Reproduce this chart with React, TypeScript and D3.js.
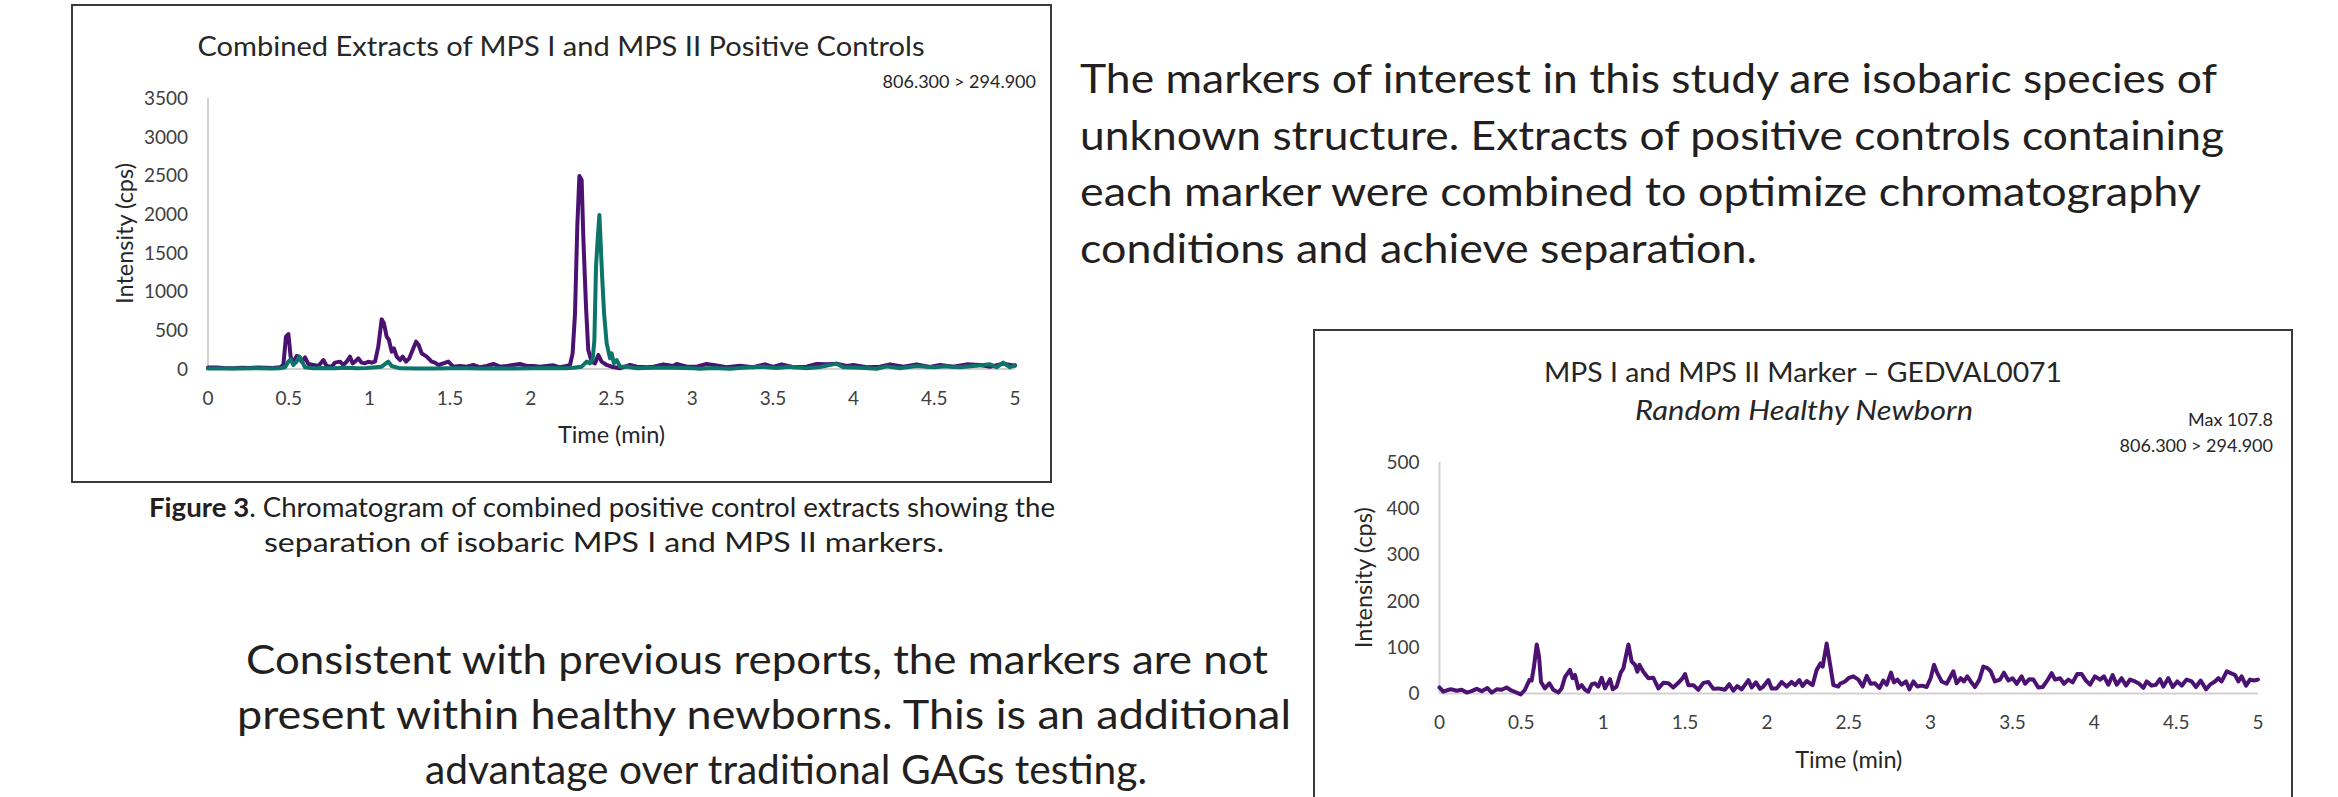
import React from "react";
import * as d3 from "d3";

// tick values
const timeTicks = [0, 0.5, 1, 1.5, 2, 2.5, 3, 3.5, 4, 4.5, 5];
const combinedIntensityTicks = [0, 500, 1000, 1500, 2000, 2500, 3000, 3500];
const healthyIntensityTicks = [0, 100, 200, 300, 400, 500];

// combined positive controls, first marker (purple trace)
const controlATimes = [
  0, 0.05, 0.1, 0.157, 0.21, 0.26, 0.31, 0.363, 0.4, 0.446, 0.467, 0.483, 0.498, 0.512, 0.529, 0.549,
  0.566, 0.58, 0.601, 0.622, 0.653, 0.684, 0.715, 0.735, 0.766, 0.787, 0.818, 0.838, 0.859, 0.88, 0.896,
  0.911, 0.931, 0.952, 0.973, 0.993, 1.014, 1.035, 1.055, 1.076, 1.09, 1.107, 1.121, 1.138, 1.152, 1.169,
  1.19, 1.206, 1.227, 1.247, 1.268, 1.289, 1.305, 1.324, 1.355, 1.386, 1.406, 1.427, 1.458, 1.489, 1.52,
  1.561, 1.603, 1.644, 1.685, 1.727, 1.768, 1.809, 1.85, 1.89, 1.933, 1.974, 2.016, 2.057, 2.098, 2.14,
  2.181, 2.222, 2.243, 2.259, 2.274, 2.288, 2.301, 2.315, 2.326, 2.342, 2.356, 2.377, 2.398, 2.418, 2.439,
  2.47, 2.5, 2.553, 2.615, 2.656, 2.718, 2.76, 2.821, 2.883, 2.904, 2.966, 3.028, 3.089, 3.151, 3.213,
  3.296, 3.378, 3.451, 3.502, 3.554, 3.626, 3.709, 3.771, 3.833, 3.895, 3.957, 3.998, 4.081, 4.163, 4.225,
  4.308, 4.39, 4.473, 4.535, 4.618, 4.7, 4.783, 4.845, 4.927, 5,
];
const controlAValues = [
  20, 18, 12, 9, 15, 13, 20, 17, 12, 22, 52, 418, 452, 159, 73, 168,
  159, 95, 150, 65, 52, 39, 116, 39, 30, 82, 95, 52, 95, 159, 73,
  95, 138, 82, 73, 95, 82, 95, 288, 641, 590, 418, 375, 224, 267, 159,
  116, 159, 95, 138, 245, 353, 310, 202, 159, 95, 82, 52, 73, 95, 30,
  39, 30, 52, 22, 39, 65, 30, 39, 52, 65, 39, 39, 30, 39, 47,
  22, 39, 52, 202, 719, 1838, 2493, 2441, 1666, 805, 245, 95, 73, 181, 95,
  52, 30, 9, 52, 30, 22, 30, 60, 39, 65, 30, 30, 65, 47, 22,
  43, 22, 60, 26, 60, 22, 30, 65, 60, 69, 39, 52, 22, 30, 60,
  30, 60, 26, 52, 30, 60, 52, 30, 69, 43,
];

// combined positive controls, second marker (teal trace)
const controlBTimes = [
  0, 0.1, 0.2, 0.3, 0.4, 0.446, 0.477, 0.498, 0.512, 0.529, 0.549, 0.564, 0.58, 0.601, 0.653, 0.7,
  0.777, 0.859, 0.92, 0.983, 1.076, 1.117, 1.138, 1.19, 1.3, 1.396, 1.5, 1.603, 1.7, 1.809, 1.9,
  2.016, 2.1, 2.222, 2.264, 2.315, 2.346, 2.367, 2.383, 2.394, 2.404, 2.414, 2.425, 2.433, 2.441, 2.454,
  2.47, 2.491, 2.501, 2.515, 2.532, 2.553, 2.6, 2.656, 2.76, 2.88, 3.007, 3.048, 3.13, 3.234, 3.316,
  3.42, 3.523, 3.606, 3.709, 3.792, 3.895, 3.936, 4.039, 4.143, 4.205, 4.287, 4.39, 4.494, 4.576, 4.659,
  4.762, 4.845, 4.886, 4.927, 4.969, 5,
];
const controlBValues = [
  5, 8, 5, 9, 5, 9, 22, 95, 125, 52, 95, 159, 108, 22, 9, 13,
  9, 17, 9, 13, 30, 95, 39, 9, 5, 5, 9, 9, 5, 9, 5,
  9, 13, 9, 17, 30, 95, 73, 116, 375, 1322, 1666, 1989, 1623, 1236, 719,
  331, 138, 202, 73, 116, 30, 30, 9, 17, 17, 9, 4, 13, 4, 17,
  30, 13, 30, 9, 26, 69, 22, 17, 4, 34, 9, 39, 22, 34, 22,
  43, 60, 22, 82, 22, 52,
];

// random healthy newborn GEDVAL0071
const healthyTimes = [
  0, 0.023, 0.054, 0.074, 0.105, 0.135, 0.166, 0.196, 0.227, 0.258, 0.292, 0.319, 0.349, 0.38, 0.41,
  0.441, 0.471, 0.496, 0.522, 0.549, 0.563, 0.577, 0.594, 0.608, 0.62, 0.644, 0.671, 0.695, 0.726,
  0.746, 0.767, 0.797, 0.813, 0.828, 0.848, 0.868, 0.889, 0.909, 0.93, 0.95, 0.97, 0.991, 1.011,
  1.042, 1.058, 1.082, 1.107, 1.123, 1.154, 1.174, 1.194, 1.209, 1.221, 1.245, 1.276, 1.306, 1.337,
  1.367, 1.398, 1.428, 1.459, 1.485, 1.5, 1.52, 1.551, 1.581, 1.612, 1.642, 1.673, 1.703, 1.744,
  1.77, 1.795, 1.819, 1.846, 1.887, 1.907, 1.933, 1.958, 1.978, 2.009, 2.029, 2.06, 2.09, 2.121,
  2.151, 2.172, 2.198, 2.218, 2.243, 2.279, 2.304, 2.328, 2.341, 2.365, 2.385, 2.406, 2.436, 2.447,
  2.477, 2.498, 2.528, 2.559, 2.585, 2.61, 2.634, 2.66, 2.687, 2.711, 2.732, 2.758, 2.776, 2.797,
  2.823, 2.85, 2.87, 2.895, 2.919, 2.946, 2.976, 3, 3.021, 3.041, 3.068, 3.098, 3.139, 3.159, 3.184,
  3.204, 3.224, 3.245, 3.271, 3.298, 3.322, 3.347, 3.367, 3.393, 3.424, 3.448, 3.475, 3.501, 3.526,
  3.556, 3.577, 3.603, 3.628, 3.658, 3.685, 3.709, 3.74, 3.76, 3.791, 3.815, 3.841, 3.868, 3.896,
  3.923, 3.949, 3.974, 4.004, 4.035, 4.059, 4.086, 4.112, 4.137, 4.167, 4.194, 4.218, 4.249, 4.275,
  4.3, 4.32, 4.35, 4.377, 4.401, 4.422, 4.452, 4.479, 4.507, 4.534, 4.564, 4.595, 4.621, 4.65, 4.682,
  4.707, 4.737, 4.758, 4.778, 4.809, 4.833, 4.86, 4.88, 4.9, 4.927, 4.951, 4.976, 5,
];
const healthyValues = [
  13, 4, 8, 9, 6, 8, 2, 5, 10, 5, 12, 2, 9, 8, 13,
  6, 2, -2, 8, 29, 28, 58, 106, 80, 25, 11, 22, 8, 2,
  11, 36, 51, 33, 40, 11, 18, 8, 4, 20, 22, 15, 34, 11,
  31, 9, 15, 45, 54, 106, 69, 62, 47, 62, 47, 33, 34, 11,
  23, 22, 13, 23, 33, 42, 18, 18, 8, 23, 25, 10, 11, 8,
  20, 6, 16, 9, 29, 13, 24, 10, 15, 29, 11, 11, 25, 15,
  25, 18, 29, 16, 27, 18, 51, 65, 58, 108, 65, 18, 15, 21,
  26, 33, 37, 30, 15, 38, 21, 22, 12, 28, 19, 45, 24, 30,
  19, 26, 9, 26, 15, 17, 14, 33, 62, 44, 26, 21, 48, 22, 33,
  26, 37, 26, 14, 30, 58, 55, 48, 26, 30, 45, 28, 33, 21,
  37, 21, 31, 30, 13, 14, 26, 44, 30, 33, 21, 30, 24, 42,
  42, 28, 19, 37, 30, 37, 19, 40, 19, 33, 17, 30, 26, 21,
  12, 26, 17, 19, 31, 15, 33, 14, 26, 17, 30, 26, 14, 28, 9,
  19, 26, 33, 26, 48, 44, 40, 26, 37, 17, 30, 28, 30,
];

const introLines = [
  "The markers of interest in this study are isobaric species of",
  "unknown structure. Extracts of positive controls containing",
  "each marker were combined to optimize chromatography",
  "conditions and achieve separation.",
];
const conclusionLines = [
  "Consistent with previous reports, the markers are not",
  "present within healthy newborns. This is an additional",
  "advantage over traditional GAGs testing.",
];

const FONT = "Lato, 'Open Sans', sans-serif";
const PURPLE = "#4b1272";
const TEAL = "#0c7468";

type Trace = { times: number[]; values: number[]; color: string };

function Chromatogram(props: any) {
  const { box, plot, yMax, yTicks, traces, titles, notes, yTitleX, xTickY, xTitleY } = props;
  const x = d3.scaleLinear().domain([0, 5]).range([plot.left, plot.right]);
  const y = d3.scaleLinear().domain([0, yMax]).range([plot.bottom, plot.top]);
  const line = d3
    .line<[number, number]>()
    .x((d) => x(d[0]))
    .y((d) => y(d[1]));
  const midY = (plot.top + plot.bottom) / 2;
  const midX = (plot.left + plot.right) / 2;

  return (
    <g fontFamily={FONT}>
      <rect x={box.x} y={box.y} width={box.w} height={box.h} fill="#fff" stroke="#3a3a3a" strokeWidth={2} />
      {titles.map((t: any, i: number) => (
        <text key={i} x={t.x} y={t.y} textAnchor="middle" fontSize={27} fill="#262626"
          fontStyle={t.italic ? "italic" : "normal"} textLength={t.len} lengthAdjust="spacingAndGlyphs">
          {t.text}
        </text>
      ))}
      {notes.map((n: any, i: number) => (
        <text key={i} x={n.x} y={n.y} textAnchor="end" fontSize={18} fill="#262626">{n.text}</text>
      ))}
      {/* axes */}
      <line x1={plot.left} x2={plot.left} y1={plot.top} y2={plot.bottom} stroke="#d4d0d0" strokeWidth={2} />
      <line x1={plot.left} x2={plot.right} y1={plot.bottom} y2={plot.bottom} stroke="#d4d0d0" strokeWidth={2} />
      {yTicks.map((v: number) => (
        <text key={v} x={plot.left - 20} y={y(v)} dy="0.36em" textAnchor="end" fontSize={19} fill="#404040">{v}</text>
      ))}
      {timeTicks.map((t) => (
        <text key={t} x={x(t)} y={xTickY} textAnchor="middle" fontSize={19} fill="#404040">{t}</text>
      ))}
      <text transform={`translate(${yTitleX},${midY}) rotate(-90)`} dy="0.36em" textAnchor="middle" fontSize={23.5} fill="#262626">
        Intensity (cps)
      </text>
      <text x={midX} y={xTitleY} textAnchor="middle" fontSize={23.5} fill="#262626">Time (min)</text>
      {traces.map((tr: Trace, i: number) => (
        <path key={i} d={line(tr.times.map((t, j) => [t, tr.values[j]] as [number, number])) || ""}
          fill="none" stroke={tr.color} strokeWidth={4} strokeLinejoin="round" strokeLinecap="round" />
      ))}
    </g>
  );
}

export default function App() {
  return (
    <svg width={2338} height={797} style={{ position: "absolute", left: 0, top: 0, background: "#fff" }}>
      <rect width={2338} height={797} fill="#fff" />
      <Chromatogram
        box={{ x: 72, y: 5, w: 979, h: 477 }}
        plot={{ left: 208, right: 1015, top: 98, bottom: 369 }}
        yMax={3500}
        yTicks={combinedIntensityTicks}
        traces={[
          { times: controlATimes, values: controlAValues, color: PURPLE },
          { times: controlBTimes, values: controlBValues, color: TEAL },
        ]}
        titles={[{ text: "Combined Extracts of MPS I and MPS II Positive Controls", x: 561, y: 56, len: 727 }]}
        notes={[{ text: "806.300 > 294.900", x: 1036, y: 88 }]}
        yTitleX={125}
        xTickY={405}
        xTitleY={443}
      />
      <Chromatogram
        box={{ x: 1314, y: 330, w: 978, h: 490 }}
        plot={{ left: 1439.5, right: 2258, top: 462, bottom: 693.5 }}
        yMax={500}
        yTicks={healthyIntensityTicks}
        traces={[{ times: healthyTimes, values: healthyValues, color: PURPLE }]}
        titles={[
          { text: "MPS I and MPS II Marker \u2013 GEDVAL0071", x: 1803, y: 382, len: 518 },
          { text: "Random Healthy Newborn", x: 1804, y: 420, len: 338, italic: true },
        ]}
        notes={[
          { text: "Max 107.8", x: 2273, y: 426 },
          { text: "806.300 > 294.900", x: 2273, y: 452 },
        ]}
        yTitleX={1364}
        xTickY={729}
        xTitleY={768}
      />
      <g fontFamily={FONT} fill="#231f20">
        <text x={602} y={517} textAnchor="middle" fontSize={26} textLength={906} lengthAdjust="spacingAndGlyphs">
          <tspan fontWeight="bold">Figure 3</tspan>. Chromatogram of combined positive control extracts showing the
        </text>
        <text x={604} y={552} textAnchor="middle" fontSize={26} textLength={680} lengthAdjust="spacingAndGlyphs">
          separation of isobaric MPS I and MPS II markers.
        </text>
        {introLines.map((s, i) => (
          <text key={s} x={1080} y={93 + i * 56.7} fontSize={41}
            textLength={[1137, 1144, 1121, 677][i]} lengthAdjust="spacingAndGlyphs">{s}</text>
        ))}
        {conclusionLines.map((s, i) => (
          <text key={s} x={[757, 764, 786][i]} y={674 + i * 55} textAnchor="middle" fontSize={41}
            textLength={[1022, 1054, 722][i]} lengthAdjust="spacingAndGlyphs">{s}</text>
        ))}
      </g>
    </svg>
  );
}
